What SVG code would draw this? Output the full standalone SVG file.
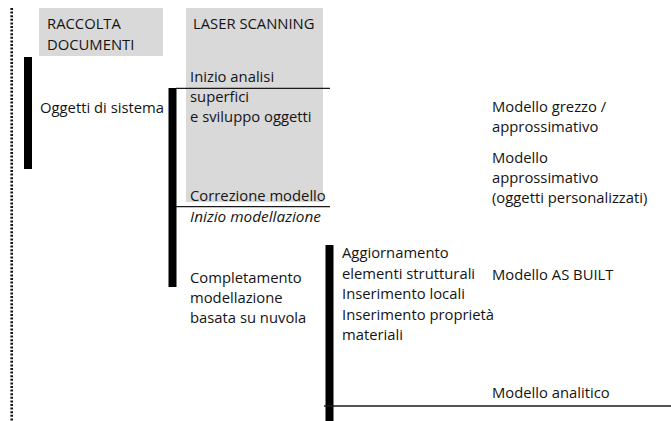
<svg xmlns="http://www.w3.org/2000/svg" width="671" height="421" viewBox="0 0 671 421">
  <style>
    .hdr { fill: #d9d9d9; }
    .t { font-family: "Open Sans", "Noto Sans", "Liberation Sans", sans-serif; font-size: 14.8px; fill: #141414; }
    .it { font-style: italic; }
    .bar { fill: #000; }
    .rule { stroke: #1a1a1a; stroke-width: 1.3; fill: none; }
    .dots { stroke: #111; stroke-width: 2.6; stroke-dasharray: 2 1.6; fill: none; }
  </style>
  <rect width="671" height="421" fill="#fff"/>

  <!-- dotted time axis -->
  <line class="dots" x1="11.7" y1="8" x2="11.7" y2="421"/>

  <!-- column headers -->
  <g id="raccolta-documenti">
    <rect class="hdr" x="39" y="8" width="124" height="48"/>
    <text class="t" x="47" y="29">RACCOLTA</text>
    <text class="t" x="47" y="50">DOCUMENTI</text>
  </g>
  <g id="laser-scanning">
    <rect class="hdr" x="186" y="8" width="137" height="194"/>
    <text class="t" x="193" y="29">LASER SCANNING</text>
  </g>

  <!-- phase bars and separators -->
  <g id="connectors">
    <rect class="bar" x="24" y="57" width="8" height="112"/>
    <rect class="bar" x="168.5" y="88" width="8" height="199"/>
    <rect class="bar" x="325.5" y="245" width="8" height="176"/>
    <line class="rule" x1="176" y1="88.3" x2="330" y2="88.3"/>
    <line class="rule" x1="176" y1="206.7" x2="330" y2="206.7"/>
    <line class="rule" x1="324" y1="406" x2="671" y2="406"/>
  </g>

  <g id="oggetti-sistema">
    <text class="t" x="40" y="113">Oggetti di sistema</text>
  </g>

  <g id="analisi-superfici">
    <text class="t" x="190" y="82">Inizio analisi</text>
    <text class="t" x="190" y="102">superfici</text>
    <text class="t" x="190" y="122">e sviluppo oggetti</text>
  </g>

  <g id="correzione-modello">
    <text class="t" x="190" y="201">Correzione modello</text>
  </g>

  <g id="inizio-modellazione">
    <text class="t it" x="190" y="222" textLength="131" lengthAdjust="spacingAndGlyphs">Inizio modellazione</text>
  </g>

  <g id="completamento">
    <text class="t" x="190" y="283">Completamento</text>
    <text class="t" x="190" y="303">modellazione</text>
    <text class="t" x="190" y="323">basata su nuvola</text>
  </g>

  <g id="aggiornamento">
    <text class="t" x="342" y="258">Aggiornamento</text>
    <text class="t" x="342" y="279">elementi strutturali</text>
    <text class="t" x="342" y="299">Inserimento locali</text>
    <text class="t" x="342" y="320">Inserimento proprietà</text>
    <text class="t" x="342" y="340">materiali</text>
  </g>

  <g id="modello-grezzo">
    <text class="t" x="492" y="112">Modello grezzo /</text>
    <text class="t" x="492" y="132">approssimativo</text>
  </g>

  <g id="modello-approssimativo">
    <text class="t" x="492" y="163">Modello</text>
    <text class="t" x="492" y="183">approssimativo</text>
    <text class="t" x="492" y="203">(oggetti personalizzati)</text>
  </g>

  <g id="modello-as-built">
    <text class="t" x="492" y="280">Modello AS BUILT</text>
  </g>

  <g id="modello-analitico">
    <text class="t" x="492" y="398">Modello analitico</text>
  </g>
</svg>
